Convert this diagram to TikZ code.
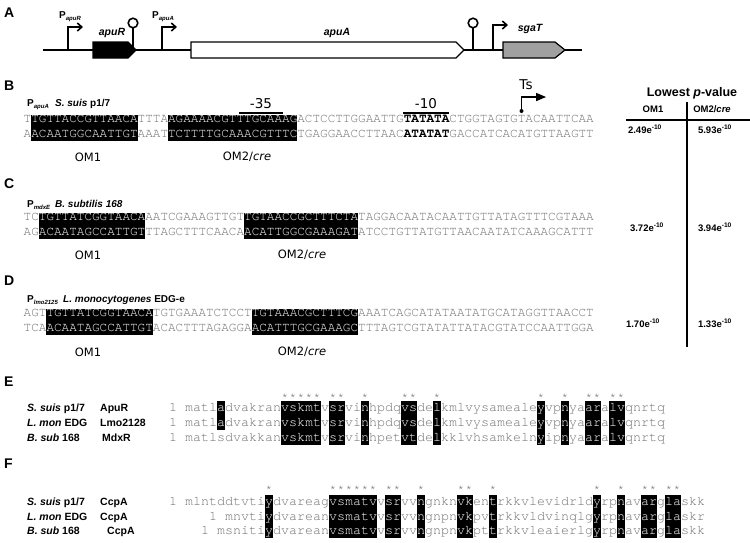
\documentclass[tikz,border=0pt]{standalone}
\usepackage{fontspec}
\setmainfont{Liberation Sans}
\newfontfamily\monofont{TeX Gyre Cursor}
\newfontfamily\verdfont{DejaVu Sans}
\usetikzlibrary{arrows,arrows.meta}
\definecolor{seqgray}{RGB}{110,110,110}
\definecolor{genegray}{RGB}{160,160,160}
\newcommand{\wh}[1]{\textcolor{white}{#1}}
\newcommand{\bk}[1]{\textcolor{black}{\bfseries #1}}
\newcommand{\prom}[1]{P\raisebox{-0.4ex}{\fontsize{6}{6}\selectfont\textit{#1}}}
\newcommand{\pexp}[1]{#1e\textsuperscript{-10}}

\begin{document}
\begin{tikzpicture}[x=1pt,y=-1pt,>=triangle 45,
    panel/.style={anchor=west,inner sep=0pt,font=\bfseries\fontsize{14}{14}\selectfont},
    plab/.style={anchor=base west,inner sep=0pt,font=\bfseries\fontsize{10}{12}\selectfont},
    genelab/.style={inner sep=0pt,font=\bfseries\itshape\fontsize{10.5}{12}\selectfont},
    dna/.style={anchor=base west,inner sep=0pt,text=seqgray,font=\monofont\fontsize{12.67}{14}\selectfont},
    prot/.style={anchor=base west,inner sep=0pt,text=seqgray,font=\monofont\fontsize{13.33}{15}\selectfont},
    cons/.style={anchor=base,inner sep=0pt,text=seqgray,font=\monofont\fontsize{11}{12}\selectfont},
    om/.style={inner sep=0pt,font=\verdfont\fontsize{11.5}{12}\selectfont},
    site/.style={inner sep=0pt,font=\verdfont\fontsize{13.5}{14}\selectfont},
    pv/.style={inner sep=0pt,font=\bfseries\fontsize{9.5}{11}\selectfont},
    gene/.style={line width=1.2pt},
    prom/.style={line width=1.6pt,-{Straight Barb[length=4.5pt,width=8pt]}},
    term/.style={line width=1.6pt}]
\useasboundingbox (0,0) rectangle (750,542);

% A: gene map
\node[panel] (pa) at (4,13) {A};
\draw[line width=2pt] (43,50) -- (582,50);
\filldraw[gene,fill=black] (93,42) -- (128,42) -- (136,50) -- (128,58) -- (93,58) -- cycle;
\filldraw[gene,fill=white] (191,42) -- (456,42) -- (464,50) -- (456,58) -- (191,58) -- cycle;
\filldraw[gene,fill=genegray] (503,42) -- (555,42) -- (565,50) -- (555,58) -- (503,58) -- cycle;
\draw[prom] (68,50) -- (68,27) -- (83,27);
\draw[prom] (162,50) -- (162,27) -- (177,27);
\draw[prom] (493,50) -- (493,25) -- (508,25);
\draw[term] (133,50) -- (133,28);
\draw[term,fill=white] (133,23) circle (4.8);
\draw[term] (473,50) -- (473,28);
\draw[term,fill=white] (473,23) circle (4.8);
\node[plab] (papur) at (59,18) {\prom{apuR}};
\node[plab] (papua) at (152,18) {\prom{apuA}};
\node[genelab] (gapur) at (112,33) {apuR};
\node[genelab] (gapua) at (337,33) {apuA};
\node[genelab] (gsgat) at (530,29) {sgaT};

% B
\node[panel] (pb) at (4,86) {B};
\node[plab] (bprom) at (27,106.5) {\prom{apuA}};
\node[plab] (bsp) at (55,106.5) {\textit{S. suis} p1/7};
\draw[line width=2pt] (239,112.5) -- (283,112.5);
\node[site] (m35) at (261,104) {-35};
\draw[line width=2pt] (403,112.5) -- (449,112.5);
\node[site] (m10) at (426,104) {-10};
\draw[line width=1.3pt,->] (521.5,111) -- (521.5,97) -- (546,97);
\fill (521.5,111) circle (2);
\node[site] (ts) at (526,85) {Ts};
\foreach \a/\b in {1/14,19/35}
  \fill ({23.5+7.6*\a},114.5) rectangle ({23.5+7.6*(\b+1)},140.5);
\node[dna] (btop) at (23.5,122.5) {T\wh{TGTTACCGTTAACA}TTTA\wh{AGAAAACGTTTGCAAAG}ACTCCTTGGAATTG\bk{TATATA}CTGGTAGTGTACAATTCAA};
\node[dna] (bbot) at (23.5,137) {A\wh{ACAATGGCAATTGT}AAAT\wh{TCTTTTGCAAACGTTTC}TGAGGAACCTTAAC\bk{ATATAT}GACCATCACATGTTAAGTT};
\node[om] (bom1) at (88,157) {OM1};
\node[om] (bom2) at (247,157) {OM2/\textit{cre}};

% p-value table
\node[inner sep=0pt,font=\bfseries\fontsize{12.5}{14}\selectfont] (plow) at (692,93) {Lowest \textit{p}-value};
\node[pv] (hom1) at (653,109) {OM1};
\node[pv] (hom2) at (712,109) {OM2/\textit{cre}};
\draw[line width=2pt] (626,120) -- (750,120);
\draw[line width=2pt] (687,102) -- (687,347);
\node[pv] (vb1) at (645,129) {\pexp{2.49}};
\node[pv] (vb2) at (715,129) {\pexp{5.93}};
\node[pv] (vc1) at (647,227) {\pexp{3.72}};
\node[pv] (vc2) at (715,227) {\pexp{3.94}};
\node[pv] (vd1) at (643,323) {\pexp{1.70}};
\node[pv] (vd2) at (715,323) {\pexp{1.33}};

% C
\node[panel] (pc) at (4,184) {C};
\node[plab] (cprom) at (27,207) {\prom{mdxE}};
\node[plab] (csp) at (55,207) {\textit{B. subtilis 168}};
\foreach \a/\b in {2/15,29/43}
  \fill ({23.5+7.6*\a},212.5) rectangle ({23.5+7.6*(\b+1)},238.5);
\node[dna] (ctop) at (23.5,220.5) {TC\wh{TGTTATCGGTAACA}AATCGAAAGTTGT\wh{TGTAACCGCTTTCTA}TAGGACAATACAATTGTTATAGTTTCGTAAA};
\node[dna] (cbot) at (23.5,235) {AG\wh{ACAATAGCCATTGT}TTAGCTTTCAACA\wh{ACATTGGCGAAAGAT}ATCCTGTTATGTTAACAATATCAAAGCATTT};
\node[om] (com1) at (88,255) {OM1};
\node[om] (com2) at (302,255) {OM2/\textit{cre}};

% D
\node[panel] (pd) at (4,281) {D};
\node[plab] (dprom) at (27,302.5) {\prom{lmo2125}};
\node[plab] (dsp) at (63,302.5) {\textit{L. monocytogenes} EDG-e};
\foreach \a/\b in {3/16,30/43}
  \fill ({23.5+7.6*\a},308.5) rectangle ({23.5+7.6*(\b+1)},334.5);
\node[dna] (dtop) at (23.5,316.5) {AGT\wh{TGTTATCGGTAACA}TGTGAAATCTCCT\wh{TGTAAACGCTTTCG}AAATCAGCATATAATATGCATAGGTTAACCT};
\node[dna] (dbot) at (23.5,331) {TCA\wh{ACAATAGCCATTGT}ACACTTTAGAGGA\wh{ACATTTGCGAAAGC}TTTAGTCGTATATTATACGTATCCAATTGGA};
\node[om] (dom1) at (88,352) {OM1};
\node[om] (dom2) at (302,352) {OM2/\textit{cre}};

% E: regulator alignment
\node[panel] (pe) at (4,382) {E};
\foreach \c in {12,13,14,15,16,18,19,22,27,28,31,44,47,50,51,53,54}
  \node[cons] (es\c) at ({189+8*\c},400) {*};
\foreach \a/\b in {12/16,18/19,22/22,27/28,31/31,44/44,47/47,50/51,53/54}
  \fill ({185+8*\a},400.5) rectangle ({185+8*(\b+1)},445);
\fill (217,400.5) rectangle (225,430);
\node[plab,font=\bfseries\fontsize{10.5}{12}\selectfont] (e1n) at (27,411.5) {\textit{S. suis} p1/7};
\node[plab,font=\bfseries\fontsize{10.5}{12}\selectfont] (e2n) at (27,426.5) {\textit{L. mon} EDG};
\node[plab,font=\bfseries\fontsize{10.5}{12}\selectfont] (e3n) at (27,441.5) {\textit{B. sub} 168};
\node[plab,font=\bfseries\fontsize{10.5}{12}\selectfont] (e1p) at (100,411.5) {ApuR};
\node[plab,font=\bfseries\fontsize{10.5}{12}\selectfont] (e2p) at (100,426.5) {Lmo2128};
\node[plab,font=\bfseries\fontsize{10.5}{12}\selectfont] (e3p) at (102,441.5) {MdxR};
\node[prot] (e1s) at (169,411.5) {1 matl\wh{a}dvakran\wh{vskmt}v\wh{sr}vi\wh{n}hpdq\wh{vs}de\wh{l}kmlvysameale\wh{y}vp\wh{n}ya\wh{ar}a\wh{lv}qnrtq};
\node[prot] (e2s) at (169,426.5) {1 matl\wh{a}dvakran\wh{vskmt}v\wh{sr}vi\wh{n}hpdq\wh{vs}de\wh{l}kmlvysameale\wh{y}vp\wh{n}ya\wh{ar}a\wh{lv}qnrtq};
\node[prot] (e3s) at (169,441.5) {1 matlsdvakkan\wh{vskmt}v\wh{sr}vi\wh{n}hpet\wh{vt}de\wh{l}kklvhsamkeln\wh{y}ip\wh{n}ya\wh{ar}a\wh{lv}qnrtq};

% F: CcpA alignment
\node[panel] (pf) at (4,464) {F};
\foreach \c in {10,18,19,20,21,22,23,25,26,29,34,35,38,51,54,57,58,60,61}
  \node[cons] (fs\c) at ({189+8*\c},492) {*};
\foreach \a/\b in {10/10,18/23,25/26,29/29,34/35,38/38,51/51,54/54,57/58,60/61}
  \fill ({185+8*\a},494.5) rectangle ({185+8*(\b+1)},538);
\node[plab,font=\bfseries\fontsize{10.5}{12}\selectfont] (f1n) at (27,505.5) {\textit{S. suis} p1/7};
\node[plab,font=\bfseries\fontsize{10.5}{12}\selectfont] (f2n) at (27,520.5) {\textit{L. mon} EDG};
\node[plab,font=\bfseries\fontsize{10.5}{12}\selectfont] (f3n) at (27,534.5) {\textit{B. sub} 168};
\node[plab,font=\bfseries\fontsize{10.5}{12}\selectfont] (f1p) at (100,505.5) {CcpA};
\node[plab,font=\bfseries\fontsize{10.5}{12}\selectfont] (f2p) at (100,520.5) {CcpA};
\node[plab,font=\bfseries\fontsize{10.5}{12}\selectfont] (f3p) at (107,534.5) {CcpA};
\node[prot] (f1s) at (169,505.5) {1 mlntddtvti\wh{y}dvareag\wh{vsmatv}v\wh{sr}vv\wh{n}gnkn\wh{vk}en\wh{t}rkkvlevidrld\wh{y}rp\wh{n}av\wh{ar}g\wh{la}skk};
\node[prot] (f2s) at (209,520.5) {1 mnvti\wh{y}dvarean\wh{vsmatv}v\wh{sr}vv\wh{n}gnpn\wh{vk}pv\wh{t}rkkvldvinqlg\wh{y}rp\wh{n}av\wh{ar}g\wh{la}skr};
\node[prot] (f3s) at (201,534.5) {1 msniti\wh{y}dvarean\wh{vsmatv}v\wh{sr}vv\wh{n}gnpn\wh{vk}pt\wh{t}rkkvleaierlg\wh{y}rp\wh{n}av\wh{ar}g\wh{la}skk};
\end{tikzpicture}
\end{document}
